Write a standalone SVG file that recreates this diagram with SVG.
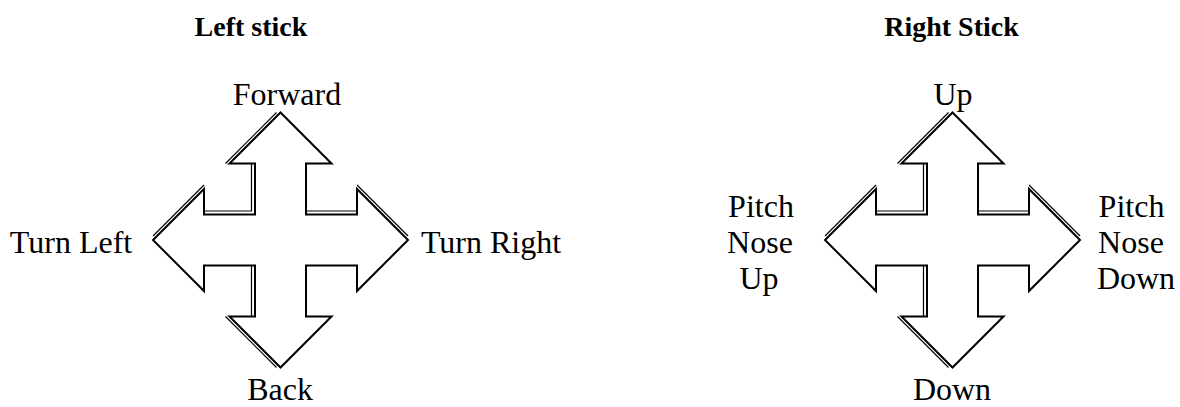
<svg xmlns="http://www.w3.org/2000/svg" xmlns:xlink="http://www.w3.org/1999/xlink" width="1180" height="407" viewBox="0 0 1180 407">
  <style>
    .t { font-family: "Liberation Serif", "Times New Roman", serif; font-size: 32px; fill: #000; }
    .title { font-family: "Liberation Serif", "Times New Roman", serif; font-size: 28px; font-weight: bold; fill: #000; }
    .main { fill: #fff; stroke: #000; stroke-width: 2; stroke-linejoin: miter; }
    .extra { fill: none; stroke: #000; stroke-width: 1.2; }
  </style>
  <defs>
    <g id="cross">
      <path class="main" d="M0,-127.5 L51,-76.5 L25.5,-76.5 L25.5,-25.5 L76.5,-25.5 L76.5,-51 L127.5,0 L76.5,51 L76.5,25.5 L25.5,25.5 L25.5,76.5 L51,76.5 L0,127.5 L-51,76.5 L-25.5,76.5 L-25.5,25.5 L-76.5,25.5 L-76.5,51 L-127.5,0 L-76.5,-51 L-76.5,-25.5 L-25.5,-25.5 L-25.5,-76.5 L-51,-76.5 Z"/>
      <path class="extra" d="M-4,-127.5 L-55,-76.5 M-29,-76.5 L-29,-29 L-76.5,-29 M-76.5,-55 L-127.5,-4 M76.5,-55 L127.5,-4 M25.5,-29 L76.5,-29 M-29,25.5 L-29,76.5 M-55,76.5 L-4,127.5"/>
    </g>
  </defs>
  <rect width="1180" height="407" fill="#fff"/>
  <g id="left-stick">
    <text class="title" x="251" y="36" text-anchor="middle">Left stick</text>
    <use xlink:href="#cross" href="#cross" transform="translate(280.5,240)"/>
    <text class="t" x="287" y="105" text-anchor="middle">Forward</text>
    <text class="t" x="280" y="400" text-anchor="middle">Back</text>
    <text class="t" x="71" y="253" text-anchor="middle">Turn Left</text>
    <text class="t" x="491" y="253" text-anchor="middle">Turn Right</text>
  </g>
  <g id="right-stick">
    <text class="title" x="951.5" y="36" text-anchor="middle">Right Stick</text>
    <use xlink:href="#cross" href="#cross" transform="translate(952.5,240)"/>
    <text class="t" x="953" y="105" text-anchor="middle">Up</text>
    <text class="t" x="952" y="400" text-anchor="middle">Down</text>
    <text class="t" text-anchor="middle"><tspan x="761" y="217">Pitch</tspan><tspan x="760" y="253">Nose</tspan><tspan x="759" y="289">Up</tspan></text>
    <text class="t" text-anchor="middle"><tspan x="1131.5" y="217">Pitch</tspan><tspan x="1131" y="253">Nose</tspan><tspan x="1136" y="289">Down</tspan></text>
  </g>
</svg>
